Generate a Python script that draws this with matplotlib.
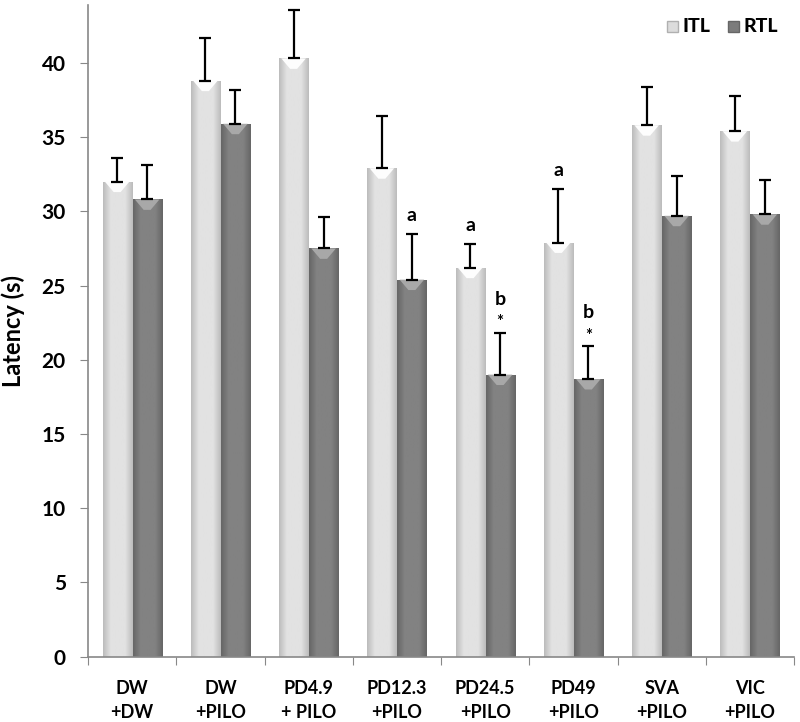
import matplotlib
matplotlib.use("Agg")
import matplotlib.pyplot as plt
import numpy as np
from matplotlib.patches import Polygon, Patch

plt.rcParams['font.family'] = ['Lato', 'DejaVu Sans']

categories = ["DW\n+DW", "DW\n+PILO", "PD4.9\n+ PILO", "PD12.3\n+PILO",
              "PD24.5\n+PILO", "PD49\n+PILO", "SVA\n+PILO", "VIC\n+PILO"]
itl = [32.0, 38.8, 40.3, 32.9, 26.2, 27.9, 35.8, 35.4]
itl_err = [1.6, 2.9, 3.3, 3.5, 1.6, 3.6, 2.6, 2.4]
rtl = [30.8, 35.9, 27.5, 25.4, 19.0, 18.7, 29.7, 29.8]
rtl_err = [2.3, 2.3, 2.1, 3.1, 2.8, 2.2, 2.7, 2.3]
# annotations: (category index, series, text)
annots = [(3, "RTL", "a"), (4, "ITL", "a"), (4, "RTL", "b*"), (5, "ITL", "a"), (5, "RTL", "b*")]

fig = plt.figure(figsize=(8, 7.22), dpi=100)
ax = fig.add_axes([0.11, 0.0905, 0.8825, 0.9025])

x = np.arange(len(categories))
w = 0.33
off = 0.17

def draw_bars(xs, vals, c_edge, c_mid, c_top):
    bars = ax.bar(xs, vals, w, color=c_mid, edgecolor='none', zorder=2)
    cmap = matplotlib.colors.LinearSegmentedColormap.from_list(
        "g", [c_edge, c_mid, c_mid, c_mid, c_edge])
    grad = np.linspace(0, 1, 64).reshape(1, -1)
    for b in bars:
        x0, y0 = b.get_x(), b.get_y()
        bw, bh = b.get_width(), b.get_height()
        im = ax.imshow(grad, extent=(x0, x0 + bw, y0, y0 + bh), aspect='auto',
                       cmap=cmap, zorder=2.1, origin='lower')
        im.set_clip_path(b)
        d = 0.7
        poly = Polygon([(x0 + bw * 0.08, y0 + bh), (x0 + bw * 0.92, y0 + bh),
                        (x0 + bw * 0.62, y0 + bh - d), (x0 + bw * 0.38, y0 + bh - d)],
                       closed=True, facecolor=c_top, edgecolor='none', zorder=2.2)
        ax.add_patch(poly)
    return bars

draw_bars(x - off, itl, '#bcbcbc', '#e2e2e2', '#fdfdfd')
draw_bars(x + off, rtl, '#666666', '#828282', '#a8a8a8')

ekw = dict(fmt='none', ecolor='black', elinewidth=1.6, capsize=4.5, capthick=1.6, zorder=3)
ax.errorbar(x - off, itl, yerr=[np.zeros(len(itl)), itl_err], **ekw)
ax.errorbar(x + off, rtl, yerr=[np.zeros(len(rtl)), rtl_err], **ekw)

for i, s, t in annots:
    if s == "ITL":
        xx, top = i - off, itl[i] + itl_err[i]
    else:
        xx, top = i + off, rtl[i] + rtl_err[i]
    if t == "a":
        ax.annotate("a", (xx, top), xytext=(0, 7), textcoords='offset points',
                    ha='center', va='bottom', fontsize=14, fontweight='bold')
    else:
        ax.annotate("*", (xx, top), xytext=(0, 2), textcoords='offset points',
                    ha='center', va='bottom', fontsize=12, fontweight='bold')
        ax.annotate("b", (xx, top), xytext=(0, 18), textcoords='offset points',
                    ha='center', va='bottom', fontsize=14, fontweight='bold')

ax.set_xlim(-0.5, len(categories) - 0.5)
ax.set_ylim(0, 43.9)
ax.set_yticks(np.arange(0, 41, 5))
ax.set_yticklabels([str(v) for v in range(0, 41, 5)], fontsize=15, fontweight='bold')
ax.set_xticks(np.arange(-0.5, len(categories), 1))
ax.set_xticklabels([])
ax.set_xticks(x, minor=True)
ax.set_xticklabels(categories, minor=True, fontsize=13, fontweight='bold', linespacing=1.45)
ax.tick_params(axis='x', which='minor', length=0, pad=17)
ax.tick_params(axis='x', which='major', length=6, color='#888888', direction='out')
ax.tick_params(axis='y', length=6, color='#888888', direction='out', pad=10)
for sp in ['top', 'right']:
    ax.spines[sp].set_visible(False)
for sp in ['left', 'bottom']:
    ax.spines[sp].set_color('#888888')
    ax.spines[sp].set_linewidth(1.2)
ax.set_ylabel("Latency (s)", fontsize=17, fontweight='bold', labelpad=12)

handles = [Patch(facecolor='#dcdcdc', edgecolor='#b0b0b0', label='ITL'),
           Patch(facecolor='#7c7c7c', edgecolor='#666666', label='RTL')]
leg = ax.legend(handles=handles, loc='upper right', ncol=2, frameon=False,
                bbox_to_anchor=(0.995, 1.0), handlelength=0.8, handleheight=0.8,
                handletextpad=0.3, columnspacing=1.3)
for t in leg.get_texts():
    t.set_fontsize(14)
    t.set_fontweight('black')

fig.savefig("out.png", dpi=100)
